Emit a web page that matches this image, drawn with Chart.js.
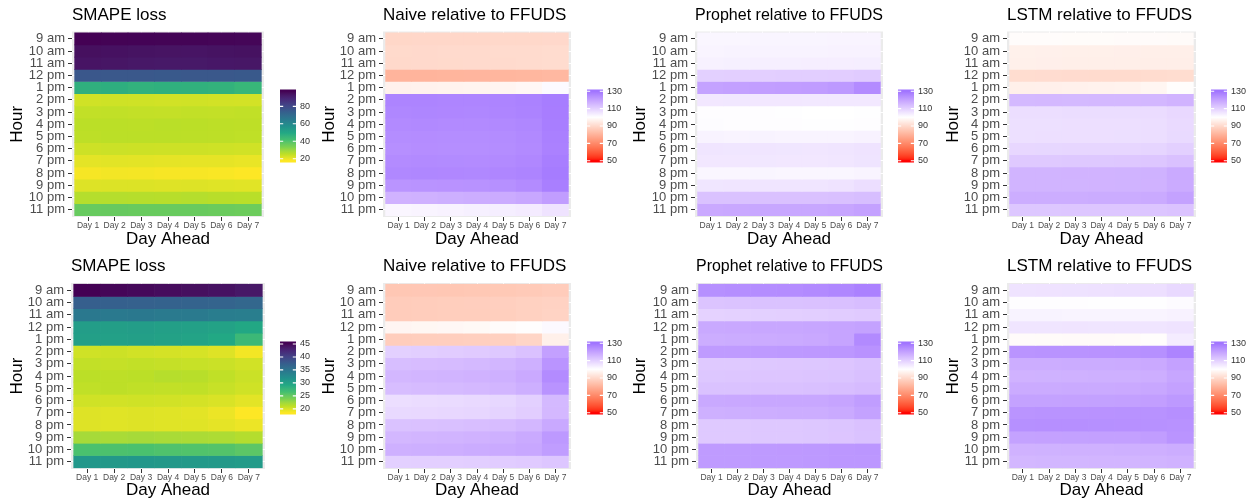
<!DOCTYPE html>
<html>
<head>
<meta charset="utf-8">
<title>Hourly forecast error by day ahead</title>
<script src="https://cdn.jsdelivr.net/npm/chart.js"></script>
<style>
  body { margin: 0; background: #fff; }
  #fig { position: relative; width: 1251px; height: 502px; overflow: hidden; }
  #fig canvas { position: absolute; }
</style>
</head>
<body>
<div id="fig"></div>
<script>
const days = ['Day 1', 'Day 2', 'Day 3', 'Day 4', 'Day 5', 'Day 6', 'Day 7'];
const hours = ['9 am', '10 am', '11 am', '12 pm', '1 pm', '2 pm', '3 pm', '4 pm',
               '5 pm', '6 pm', '7 pm', '8 pm', '9 pm', '10 pm', '11 pm'];

// one row per hour, one column per day ahead

// ---- top row ----
const smapeTop = [
  [97.2, 96.9, 96.8, 96.6, 96.7, 96.5, 96.3],
  [94.5, 94.2, 93.8, 93.6, 93.5, 93.8, 94.0],
  [93.5, 93.2, 92.6, 92.4, 92.5, 92.8, 92.9],
  [76.0, 75.8, 75.6, 75.5, 75.6, 75.7, 75.4],
  [47.0, 47.3, 46.5, 46.8, 46.6, 46.2, 44.8],
  [23.2, 23.4, 23.3, 23.1, 23.2, 23.0, 22.8],
  [24.8, 24.9, 24.7, 24.6, 24.8, 24.7, 24.9],
  [25.6, 25.7, 25.5, 25.8, 25.6, 25.4, 25.3],
  [25.4, 25.6, 25.7, 25.6, 25.5, 25.4, 25.2],
  [23.6, 23.8, 23.7, 23.5, 23.6, 23.4, 23.2],
  [20.8, 21.0, 20.9, 20.7, 20.6, 20.5, 20.2],
  [18.6, 18.9, 18.8, 18.5, 18.4, 18.2, 17.7],
  [21.6, 21.8, 21.7, 21.5, 21.6, 21.4, 21.2],
  [26.4, 26.5, 26.3, 26.2, 26.4, 26.1, 25.9],
  [36.8, 36.9, 36.7, 36.6, 36.7, 36.4, 36.0]
];
const naiveTop = [
  [89.4, 89.5, 89.6, 89.5, 89.7, 89.8, 89.9],
  [90.2, 90.1, 90.3, 90.4, 90.5, 90.6, 90.8],
  [90.0, 90.1, 90.2, 90.3, 90.4, 90.6, 90.8],
  [80.5, 80.6, 80.8, 80.9, 81.0, 81.2, 81.5],
  [96.3, 96.5, 96.8, 97.0, 97.3, 98.0, 101.0],
  [126.5, 126.6, 126.4, 126.3, 126.6, 127.0, 128.2],
  [126.0, 126.2, 126.1, 126.0, 126.3, 126.8, 128.0],
  [125.2, 125.4, 125.3, 125.2, 125.5, 126.0, 127.8],
  [124.6, 124.8, 124.7, 124.6, 124.9, 125.5, 127.5],
  [124.2, 124.5, 124.4, 124.3, 124.6, 125.2, 127.2],
  [125.0, 125.2, 125.1, 125.0, 125.3, 125.9, 127.8],
  [125.8, 126.0, 125.9, 125.8, 126.1, 126.6, 128.4],
  [123.0, 123.3, 123.4, 123.5, 124.0, 125.0, 127.6],
  [116.5, 116.8, 117.2, 117.6, 118.0, 119.0, 121.0],
  [102.0, 102.4, 102.8, 103.2, 103.6, 104.2, 106.0]
];
const prophetTop = [
  [102.0, 102.0, 102.1, 102.1, 102.2, 102.3, 102.4],
  [102.4, 102.5, 102.5, 102.6, 102.6, 102.7, 102.8],
  [103.0, 103.2, 103.3, 103.4, 103.5, 103.5, 103.6],
  [110.0, 110.2, 110.3, 110.4, 110.5, 110.6, 111.0],
  [120.0, 120.5, 120.8, 121.0, 121.3, 122.0, 125.0],
  [105.0, 105.1, 105.0, 105.0, 104.9, 104.8, 104.9],
  [100.5, 100.4, 100.4, 100.3, 100.1, 100.0, 100.3],
  [100.6, 100.5, 100.5, 100.4, 100.3, 100.2, 100.5],
  [102.5, 102.4, 102.5, 102.4, 102.3, 102.4, 102.7],
  [105.5, 105.4, 105.5, 105.4, 105.3, 105.5, 106.0],
  [105.0, 105.0, 105.1, 105.0, 105.0, 105.2, 105.8],
  [102.0, 102.0, 102.1, 102.0, 101.9, 102.0, 102.4],
  [105.4, 105.5, 105.6, 105.5, 105.6, 106.0, 107.0],
  [113.0, 113.1, 113.2, 113.2, 113.3, 113.5, 114.0],
  [118.4, 118.6, 118.8, 118.9, 119.0, 119.3, 120.2]
];
const lstmTop = [
  [99.2, 99.2, 99.1, 99.1, 99.0, 99.0, 98.9],
  [96.2, 96.1, 96.0, 96.0, 95.9, 95.8, 95.8],
  [96.0, 95.9, 95.8, 95.8, 95.7, 95.6, 95.5],
  [91.0, 90.9, 90.7, 90.5, 90.6, 90.8, 91.0],
  [96.0, 96.1, 96.3, 96.5, 96.8, 97.6, 99.5],
  [115.0, 115.1, 115.0, 115.1, 115.2, 115.4, 116.2],
  [107.0, 107.1, 107.2, 107.2, 107.3, 107.5, 108.2],
  [106.5, 106.6, 106.7, 106.8, 106.8, 107.0, 107.8],
  [106.6, 106.7, 106.8, 106.8, 106.9, 107.1, 107.9],
  [108.5, 108.6, 108.7, 108.8, 108.8, 109.0, 110.0],
  [111.5, 111.6, 111.7, 111.8, 111.9, 112.1, 113.2],
  [116.0, 116.1, 116.2, 116.2, 116.3, 116.6, 118.2],
  [116.0, 116.0, 116.1, 116.2, 116.3, 116.5, 118.0],
  [117.5, 117.6, 117.7, 117.8, 117.9, 118.2, 120.0],
  [112.0, 112.0, 112.1, 112.2, 112.2, 112.4, 112.8]
];

// ---- bottom row ----
const smapeBottom = [
  [45.3, 45.0, 44.8, 44.6, 44.4, 44.2, 43.8],
  [37.4, 37.3, 37.2, 37.0, 36.9, 36.8, 36.5],
  [34.6, 34.5, 34.6, 34.4, 34.3, 34.0, 33.9],
  [30.4, 30.3, 30.4, 30.2, 30.1, 29.9, 29.3],
  [30.2, 30.1, 30.2, 30.0, 29.8, 29.2, 27.3],
  [20.4, 20.5, 20.3, 20.2, 20.1, 19.8, 18.9],
  [20.9, 20.8, 20.9, 20.8, 20.7, 20.6, 20.3],
  [21.2, 21.1, 21.2, 21.4, 21.3, 21.0, 20.6],
  [21.0, 21.1, 21.0, 20.9, 21.0, 20.7, 20.4],
  [20.4, 20.3, 20.4, 20.3, 20.2, 20.0, 19.6],
  [19.8, 19.7, 19.8, 19.7, 19.6, 19.2, 18.5],
  [19.8, 19.7, 19.8, 19.7, 19.7, 19.5, 19.2],
  [22.1, 22.0, 22.1, 22.0, 21.9, 21.8, 21.5],
  [26.3, 26.2, 26.3, 26.1, 26.0, 25.9, 25.5],
  [31.1, 31.0, 31.1, 31.0, 30.9, 30.9, 30.7]
];
const naiveBottom = [
  [85.3, 85.5, 85.4, 85.6, 85.8, 86.2, 86.8],
  [86.8, 87.0, 87.2, 87.3, 87.5, 88.0, 88.3],
  [86.8, 87.0, 87.1, 87.2, 87.4, 87.9, 88.5],
  [97.5, 97.8, 98.0, 98.3, 99.0, 99.6, 101.2],
  [87.0, 87.2, 87.3, 87.5, 87.8, 89.0, 96.0],
  [110.0, 110.5, 110.8, 111.2, 111.8, 113.2, 120.5],
  [114.0, 114.3, 114.6, 115.0, 115.6, 117.0, 123.0],
  [115.5, 115.8, 116.0, 116.4, 117.0, 118.4, 125.0],
  [114.2, 114.5, 114.8, 115.2, 115.8, 117.2, 123.2],
  [107.0, 107.4, 107.6, 108.0, 108.6, 110.0, 115.0],
  [108.0, 108.2, 108.5, 108.8, 109.4, 110.6, 115.2],
  [113.0, 113.2, 113.5, 113.8, 114.3, 115.4, 118.5],
  [115.5, 115.8, 116.0, 116.4, 117.0, 118.2, 122.0],
  [117.0, 117.2, 117.4, 117.8, 118.2, 119.0, 121.2],
  [110.0, 110.2, 110.3, 110.5, 110.8, 111.2, 112.2]
];
const prophetBottom = [
  [124.0, 124.3, 124.6, 124.8, 125.2, 126.0, 127.2],
  [112.5, 112.8, 113.0, 113.0, 113.2, 113.5, 114.2],
  [109.5, 109.8, 110.0, 110.2, 110.4, 110.8, 111.2],
  [118.5, 118.6, 118.8, 119.0, 119.2, 119.5, 120.0],
  [117.5, 117.8, 118.0, 118.2, 118.6, 119.6, 125.2],
  [121.5, 121.6, 121.8, 122.0, 122.2, 122.5, 123.4],
  [111.5, 111.6, 111.8, 111.9, 112.0, 112.3, 113.0],
  [112.0, 112.1, 112.3, 112.3, 112.5, 112.7, 113.5],
  [113.0, 113.0, 113.2, 113.3, 113.4, 113.8, 114.6],
  [118.5, 118.6, 118.8, 118.9, 119.0, 119.6, 121.2],
  [117.0, 117.2, 117.4, 117.5, 117.6, 118.2, 120.0],
  [111.5, 111.6, 111.8, 111.8, 112.0, 112.4, 113.2],
  [111.5, 111.6, 111.7, 111.8, 112.0, 112.3, 113.0],
  [121.5, 121.6, 121.8, 121.9, 122.0, 122.4, 122.6],
  [121.5, 121.6, 121.7, 121.8, 122.0, 122.3, 122.5]
];
const lstmBottom = [
  [106.0, 106.1, 106.2, 106.3, 106.5, 106.8, 108.0],
  [100.5, 100.4, 100.4, 100.3, 100.2, 100.2, 100.8],
  [102.5, 102.5, 102.4, 102.4, 102.3, 102.4, 102.8],
  [105.5, 105.6, 105.7, 105.6, 105.5, 105.6, 106.0],
  [99.0, 98.9, 98.8, 98.8, 98.9, 99.5, 104.0],
  [123.0, 123.2, 123.3, 123.4, 123.5, 124.0, 126.5],
  [117.5, 117.6, 117.8, 117.9, 118.0, 118.4, 120.2],
  [116.5, 116.6, 116.8, 116.9, 117.0, 117.4, 119.2],
  [118.0, 118.1, 118.3, 118.3, 118.4, 118.8, 120.2],
  [120.0, 120.1, 120.2, 120.3, 120.4, 120.8, 122.0],
  [123.0, 123.2, 123.3, 123.4, 123.5, 123.6, 124.2],
  [124.0, 124.2, 124.1, 124.0, 123.9, 123.8, 123.5],
  [120.0, 120.2, 120.3, 120.4, 120.5, 121.0, 123.0],
  [116.5, 116.6, 116.7, 116.8, 116.9, 117.1, 117.6],
  [115.5, 115.6, 115.7, 115.8, 115.9, 116.0, 116.4]
];

// colourbar breaks
const smapeTopBreaks = [20, 40, 60, 80];
const smapeBottomBreaks = [20, 25, 30, 35, 40, 45];
const relativeBreaks = [50, 70, 90, 110, 130];
const relativeLimits = [50, 130];
const relativeMid = 100;

Chart.defaults.font.family = "'Liberation Sans', Arial, Helvetica, sans-serif";
Chart.defaults.animation = false;

// ---- colour helpers (Lab interpolation) ----
const WHITE_POINT = [0.95047, 1, 1.08883];
const toLinear = c => { c /= 255; return c <= 0.04045 ? c / 12.92 : Math.pow((c + 0.055) / 1.055, 2.4); };
const fromLinear = c => {
  const v = c <= 0.0031308 ? 12.92 * c : 1.055 * Math.pow(c, 1 / 2.4) - 0.055;
  return Math.round(Math.min(1, Math.max(0, v)) * 255);
};
function hexToRgb(h) {
  return [1, 3, 5].map(i => parseInt(h.slice(i, i + 2), 16));
}
function rgbToLab([r, g, b]) {
  const R = toLinear(r), G = toLinear(g), B = toLinear(b);
  const x = (0.4124564 * R + 0.3575761 * G + 0.1804375 * B) / WHITE_POINT[0];
  const y = (0.2126729 * R + 0.7151522 * G + 0.0721750 * B) / WHITE_POINT[1];
  const z = (0.0193339 * R + 0.1191920 * G + 0.9503041 * B) / WHITE_POINT[2];
  const f = t => t > 216 / 24389 ? Math.cbrt(t) : (24389 / 27 * t + 16) / 116;
  const fx = f(x), fy = f(y), fz = f(z);
  return [116 * fy - 16, 500 * (fx - fy), 200 * (fy - fz)];
}
function labToRgb([L, a, b]) {
  const fy = (L + 16) / 116, fx = fy + a / 500, fz = fy - b / 200;
  const inv = t => t * t * t > 216 / 24389 ? t * t * t : (116 * t - 16) / (24389 / 27);
  const x = inv(fx) * WHITE_POINT[0], y = inv(fy) * WHITE_POINT[1], z = inv(fz) * WHITE_POINT[2];
  return [
    fromLinear(3.2404542 * x - 1.5371385 * y - 0.4985314 * z),
    fromLinear(-0.9692660 * x + 1.8760108 * y + 0.0415560 * z),
    fromLinear(0.0556434 * x - 0.2040259 * y + 1.0572252 * z)
  ];
}
function mix(labA, labB, t) {
  const [r, g, b] = labToRgb(labA.map((v, i) => v + (labB[i] - v) * t));
  return `rgb(${r},${g},${b})`;
}

const viridisLab = ['#440154', '#482576', '#414487', '#35608D', '#2A788E', '#21908C',
                    '#22A884', '#43BF71', '#7AD151', '#BBDF27', '#FDE725'].map(h => rgbToLab(hexToRgb(h)));
const redLab = rgbToLab([255, 0, 0]);
const whiteLab = rgbToLab([255, 255, 255]);
const blueLab = rgbToLab([0, 0, 255]);

// reversed viridis: high loss is dark
function viridisColour(v, lo, hi) {
  const t = Math.min(1, Math.max(0, (hi - v) / (hi - lo))) * (viridisLab.length - 1);
  const i = Math.min(viridisLab.length - 2, Math.floor(t));
  return mix(viridisLab[i], viridisLab[i + 1], t - i);
}
// red - white - blue around 100
function relativeColour(v) {
  const half = Math.max(relativeMid - relativeLimits[0], relativeLimits[1] - relativeMid);
  const t = Math.min(1, Math.abs(v - relativeMid) / half);
  return v < relativeMid ? mix(whiteLab, redLab, t) : mix(whiteLab, blueLab, t);
}

// ---- panel layout ----
const rows = [
  { top: 0, plotY: [31.5, 217], titleMid: 15.5, barY: [87.7, 164] },
  { top: 251, plotY: [283, 469], titleMid: 266.7, barY: [339.5, 415.5] }
];
const panels = [
  { title: 'SMAPE loss', values: smapeTop, kind: 'viridis', breaks: smapeTopBreaks, row: 0, left: 0, plotX: [72, 264], barX: 280 },
  { title: 'Naive relative to FFUDS', values: naiveTop, kind: 'relative', breaks: relativeBreaks, row: 0, left: 312, plotX: [383, 571], barX: 587 },
  { title: 'Prophet relative to FFUDS', values: prophetTop, kind: 'relative', breaks: relativeBreaks, row: 0, left: 623, plotX: [695, 883], barX: 898 },
  { title: 'LSTM relative to FFUDS', values: lstmTop, kind: 'relative', breaks: relativeBreaks, row: 0, left: 936, plotX: [1007, 1196], barX: 1211 },
  { title: 'SMAPE loss', values: smapeBottom, kind: 'viridis', breaks: smapeBottomBreaks, row: 1, left: 0, plotX: [71, 265], barX: 280 },
  { title: 'Naive relative to FFUDS', values: naiveBottom, kind: 'relative', breaks: relativeBreaks, row: 1, left: 312, plotX: [383, 571], barX: 587 },
  { title: 'Prophet relative to FFUDS', values: prophetBottom, kind: 'relative', breaks: relativeBreaks, row: 1, left: 623, plotX: [696, 883], barX: 898 },
  { title: 'LSTM relative to FFUDS', values: lstmBottom, kind: 'relative', breaks: relativeBreaks, row: 1, left: 936, plotX: [1007, 1196], barX: 1211 }
];

const fig = document.getElementById('fig');

function addCanvas(left, top, width, height) {
  const c = document.createElement('canvas');
  c.width = width;
  c.height = height;
  c.style.left = left + 'px';
  c.style.top = top + 'px';
  fig.appendChild(c);
  return c;
}

// grey panel background behind the tiles
const panelBackground = {
  id: 'panelBackground',
  beforeDraw(chart) {
    const { ctx, chartArea: a } = chart;
    ctx.save();
    ctx.fillStyle = '#EBEBEB';
    ctx.fillRect(a.left, a.top, a.width, a.height);
    ctx.restore();
  }
};

// short white marks at each break on both edges of the colourbar
const barTicks = {
  id: 'barTicks',
  afterDatasetsDraw(chart) {
    const { ctx, chartArea: a, scales: { y } } = chart;
    const len = a.width / 5;
    ctx.save();
    ctx.strokeStyle = '#fff';
    ctx.lineWidth = 1.2;
    y.ticks.forEach(t => {
      const py = y.getPixelForValue(t.value);
      ctx.beginPath();
      ctx.moveTo(a.left, py); ctx.lineTo(a.left + len, py);
      ctx.moveTo(a.right - len, py); ctx.lineTo(a.right, py);
      ctx.stroke();
    });
    ctx.restore();
  }
};

function drawHeatmap(p, colour) {
  const row = rows[p.row];
  const width = p.plotX[1] + 6 - p.left;
  const height = 251;
  const plotTop = row.plotY[0] - row.top;
  const titleMid = row.titleMid - row.top;
  const canvas = addCanvas(p.left, row.top, width, height);

  new Chart(canvas, {
    type: 'bar',
    data: {
      datasets: hours.map((h, r) => ({
        label: h,
        data: days.map((d, c) => ({ x: c + 1, y: 1 })),
        backgroundColor: p.values[r].map(colour),
        borderWidth: 0,
        barPercentage: 1,
        categoryPercentage: 1
      }))
    },
    options: {
      responsive: false,
      animation: false,
      layout: { padding: { left: 0, right: width - (p.plotX[1] - p.left), top: 0, bottom: 0 } },
      plugins: {
        legend: { display: false },
        tooltip: { enabled: false },
        title: {
          display: true,
          text: p.title,
          align: 'start',
          fullSize: false,
          color: '#000',
          font: { size: 17, weight: 'normal' },
          padding: { top: titleMid - 10.2, bottom: plotTop - titleMid - 10.2 }
        }
      },
      scales: {
        x: {
          type: 'linear',
          stacked: true,
          offset: false,
          min: 0.4,
          max: 7.6,
          afterBuildTicks: s => { s.ticks = days.map((d, i) => ({ value: i + 1 })); },
          afterFit: s => { s.height = row.top + height - row.plotY[1]; },
          ticks: {
            callback: v => days[v - 1],
            autoSkip: false,
            maxRotation: 0,
            padding: 0,
            color: '#4D4D4D',
            font: { size: 8.5 }
          },
          grid: { offset: false, color: '#fff', lineWidth: 1, tickColor: '#333', tickLength: 4, tickWidth: 1 },
          border: { display: false },
          title: { display: true, text: 'Day Ahead', color: '#000', font: { size: 17 }, padding: { top: 0, bottom: 1.6 } }
        },
        y: {
          type: 'linear',
          stacked: true,
          reverse: true,
          min: -0.1,
          max: hours.length + 0.1,
          afterBuildTicks: s => { s.ticks = hours.map((h, i) => ({ value: i + 0.5 })); },
          afterFit: s => { s.width = p.plotX[0] - p.left; },
          ticks: {
            callback: v => hours[Math.floor(v)],
            autoSkip: false,
            padding: 3,
            color: '#4D4D4D',
            font: { size: 13 }
          },
          grid: { color: '#fff', lineWidth: 1, tickColor: '#333', tickLength: 4, tickWidth: 1 },
          border: { display: false },
          title: { display: true, text: 'Hour', color: '#000', font: { size: 17 }, padding: { top: 6.8, bottom: 0 } }
        }
      }
    },
    plugins: [panelBackground]
  });
}

function drawColourbar(p, colour, lo, hi) {
  const row = rows[p.row];
  const barW = 16;
  const width = 44;
  const pad = 8;
  const height = row.barY[1] - row.barY[0] + 2 * pad;
  const d = (hi - lo) / 38; // half a bin on each end
  const canvas = addCanvas(p.barX, row.barY[0] - pad, width, height);

  const chart = new Chart(canvas, {
    type: 'bar',
    data: {
      labels: [''],
      datasets: [{
        data: [[lo - d, hi + d]],
        backgroundColor: ctx => {
          const { chart: c } = ctx;
          if (!c.chartArea) return colour(lo);
          const y = c.scales.y;
          const g = c.ctx.createLinearGradient(0, y.getPixelForValue(lo), 0, y.getPixelForValue(hi));
          for (let i = 0; i <= 40; i++) g.addColorStop(i / 40, colour(lo + (hi - lo) * i / 40));
          return g;
        },
        borderWidth: 0,
        barPercentage: 1,
        categoryPercentage: 1
      }]
    },
    options: {
      responsive: false,
      animation: false,
      layout: { padding: { left: 0, right: 0, top: pad, bottom: pad } },
      plugins: { legend: { display: false }, tooltip: { enabled: false } },
      scales: {
        x: { display: false },
        y: {
          position: 'right',
          min: lo - d,
          max: hi + d,
          afterBuildTicks: s => { s.ticks = p.breaks.map(v => ({ value: v })); },
          afterFit: s => { s.width = width - barW; },
          grid: { display: false, drawTicks: false },
          border: { display: false },
          ticks: { padding: 4, color: '#333', font: { size: 9 } }
        }
      }
    },
    plugins: [barTicks]
  });
  chart.update();
}

panels.forEach(p => {
  let colour, lo, hi;
  if (p.kind === 'viridis') {
    const all = p.values.flat();
    lo = Math.min(...all);
    hi = Math.max(...all);
    colour = v => viridisColour(v, lo, hi);
  } else {
    [lo, hi] = relativeLimits;
    colour = relativeColour;
  }
  drawHeatmap(p, colour);
  drawColourbar(p, colour, lo, hi);
});
</script>
</body>
</html>
